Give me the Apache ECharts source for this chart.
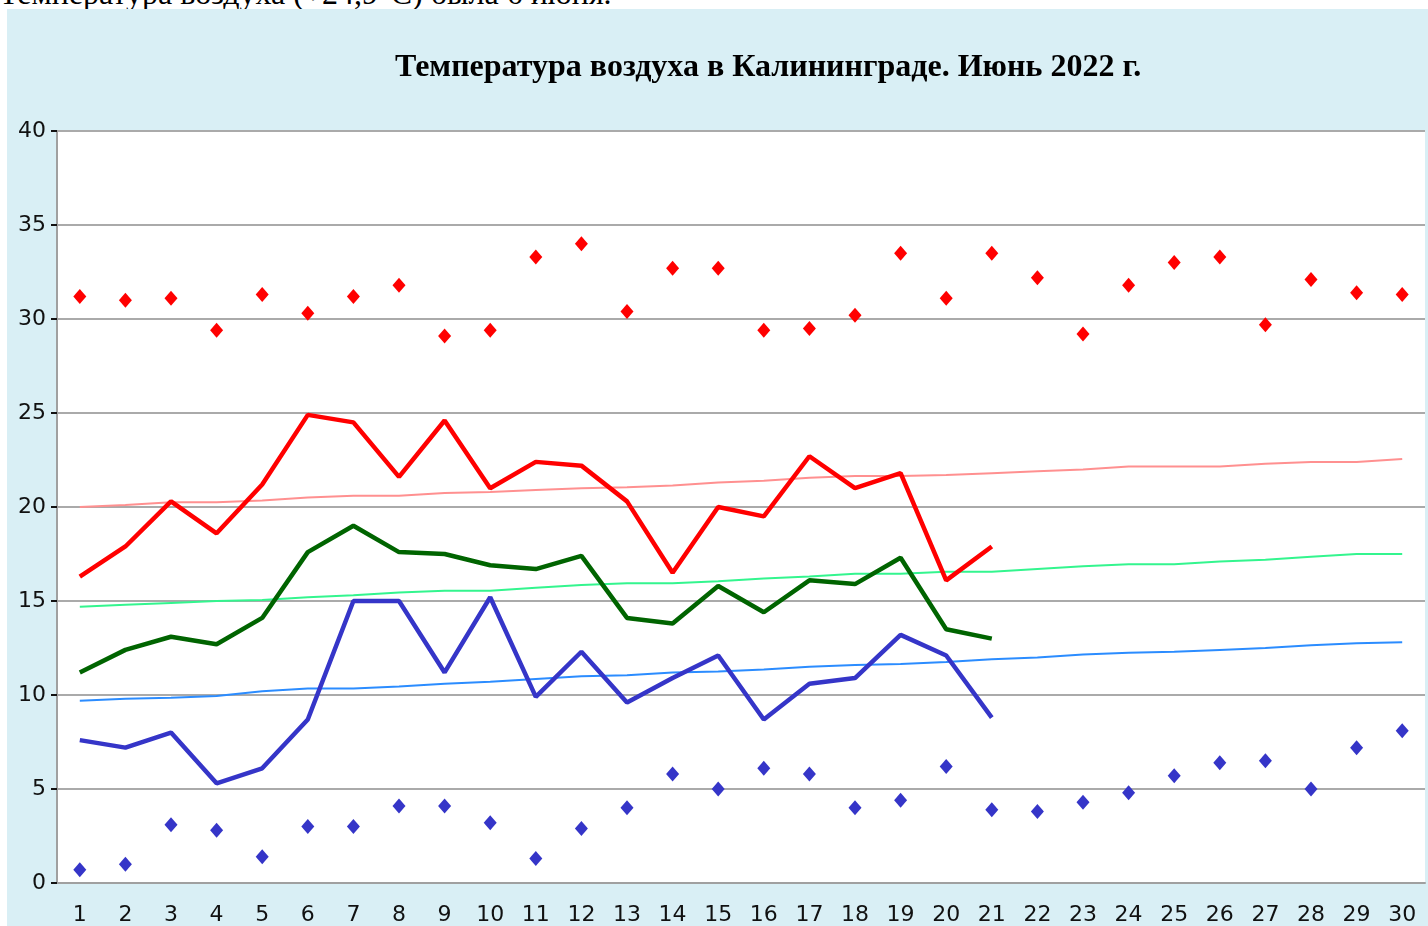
<!DOCTYPE html>
<html>
<head>
<meta charset="utf-8">
<title>Температура воздуха в Калининграде. Июнь 2022 г.</title>
<script src="https://cdn.jsdelivr.net/npm/echarts/dist/echarts.min.js"></script>
<style>
  html, body { margin: 0; padding: 0; background: #fff; overflow: hidden; }
  .note {
    position: absolute; left: -1px; top: -25px;
    font: 32px "Liberation Serif", serif; color: #000; white-space: nowrap;
  }
  .main { position: absolute; left: 7px; top: 9px; width: 1421px; height: 917px; }
</style>
</head>
<body>
<div class="note">Температура воздуха (+24,9°C) была 6 июня.</div>
<div class="main" id="main"></div>
<script>
// дни месяца (подписи оси X)
var days = [];
for (var i = 1; i <= 30; i++) days.push(String(i));

// фактические значения за 1-21 июня
var maxT  = [16.3, 17.9, 20.3, 18.6, 21.2, 24.9, 24.5, 21.6, 24.6, 21.0, 22.4, 22.2, 20.3, 16.5, 20.0, 19.5, 22.7, 21.0, 21.8, 16.1, 17.9];
var meanT = [11.2, 12.4, 13.1, 12.7, 14.1, 17.6, 19.0, 17.6, 17.5, 16.9, 16.7, 17.4, 14.1, 13.8, 15.8, 14.4, 16.1, 15.9, 17.3, 13.5, 13.0];
var minT  = [7.6, 7.2, 8.0, 5.3, 6.1, 8.7, 15.0, 15.0, 11.2, 15.2, 9.9, 12.3, 9.6, 10.9, 12.1, 8.7, 10.6, 10.9, 13.2, 12.1, 8.8];

// нормы
var normMax  = [20.0, 20.1, 20.25, 20.25, 20.35, 20.5, 20.6, 20.6, 20.75, 20.8, 20.9, 21.0, 21.05, 21.15, 21.3, 21.4, 21.55, 21.65, 21.65, 21.7, 21.8, 21.9, 22.0, 22.15, 22.15, 22.15, 22.3, 22.4, 22.4, 22.55];
var normMean = [14.7, 14.8, 14.9, 15.0, 15.05, 15.2, 15.3, 15.45, 15.55, 15.55, 15.7, 15.85, 15.95, 15.95, 16.05, 16.2, 16.3, 16.45, 16.45, 16.55, 16.55, 16.7, 16.85, 16.95, 16.95, 17.1, 17.2, 17.35, 17.5, 17.5];
var normMin  = [9.7, 9.8, 9.85, 9.95, 10.2, 10.35, 10.35, 10.45, 10.6, 10.7, 10.85, 11.0, 11.05, 11.2, 11.25, 11.35, 11.5, 11.6, 11.65, 11.75, 11.9, 12.0, 12.15, 12.25, 12.3, 12.4, 12.5, 12.65, 12.75, 12.8];

// абсолютные максимумы и минимумы
var recMax = [31.2, 31.0, 31.1, 29.4, 31.3, 30.3, 31.2, 31.8, 29.1, 29.4, 33.3, 34.0, 30.4, 32.7, 32.7, 29.4, 29.5, 30.2, 33.5, 31.1, 33.5, 32.2, 29.2, 31.8, 33.0, 33.3, 29.7, 32.1, 31.4, 31.3];
var recMin = [0.7, 1.0, 3.1, 2.8, 1.4, 3.0, 3.0, 4.1, 4.1, 3.2, 1.3, 2.9, 4.0, 5.8, 5.0, 6.1, 5.8, 4.0, 4.4, 6.2, 3.9, 3.8, 4.3, 4.8, 5.7, 6.4, 6.5, 5.0, 7.2, 8.1];

var myChart = echarts.init(document.getElementById('main'));

function line(name, data, color, width, z) {
  return {
    name: name, type: 'line', data: data, symbol: 'none', z: z,
    lineStyle: { color: color, width: width }
  };
}
function dots(name, data, color) {
  return {
    name: name, type: 'scatter', data: data, symbol: 'diamond', symbolSize: [13, 15], z: 5,
    itemStyle: { color: color, opacity: 1 }
  };
}

var option = {
  animation: false,
  backgroundColor: '#d9eff5',
  title: {
    text: 'Температура воздуха в Калининграде. Июнь 2022 г.',
    left: 383,
    top: 38,
    textStyle: { fontFamily: 'Liberation Serif', fontWeight: 'bold', fontSize: 32, color: '#000' }
  },
  grid: {
    left: 50, top: 122, right: 3, bottom: 39,
    show: true, backgroundColor: '#fff', borderWidth: 0
  },
  xAxis: {
    type: 'category',
    data: days,
    boundaryGap: true,
    axisLine: { lineStyle: { color: '#a0a0a0', width: 2 } },
    axisTick: { alignWithLabel: true, length: 13, lineStyle: { color: '#111', width: 2 } },
    axisLabel: { margin: 21, color: '#111', fontFamily: 'DejaVu Sans', fontSize: 22 },
    splitLine: { show: false }
  },
  yAxis: {
    type: 'value',
    min: 0, max: 40, interval: 5,
    axisLine: { show: true, lineStyle: { color: '#a0a0a0', width: 2 } },
    axisTick: { show: true, length: 6, lineStyle: { color: '#111', width: 2 } },
    axisLabel: { margin: 11, color: '#111', fontFamily: 'DejaVu Sans', fontSize: 22 },
    splitLine: { lineStyle: { color: '#aaaaaa', width: 2 } }
  },
  series: [
    line('Норма макс.', normMax, '#ff9090', 2, 2),
    line('Норма сред.', normMean, '#33f58e', 2, 2),
    line('Норма мин.', normMin, '#2b8cff', 2, 2),
    line('Максимум', maxT, '#ff0000', 4.5, 3),
    line('Средняя', meanT, '#006400', 4.5, 3),
    line('Минимум', minT, '#3535c8', 4.5, 3),
    dots('Абс. максимум', recMax, '#ff0000'),
    dots('Абс. минимум', recMin, '#3535c8')
  ]
};
option && myChart.setOption(option);
</script>
</body>
</html>
